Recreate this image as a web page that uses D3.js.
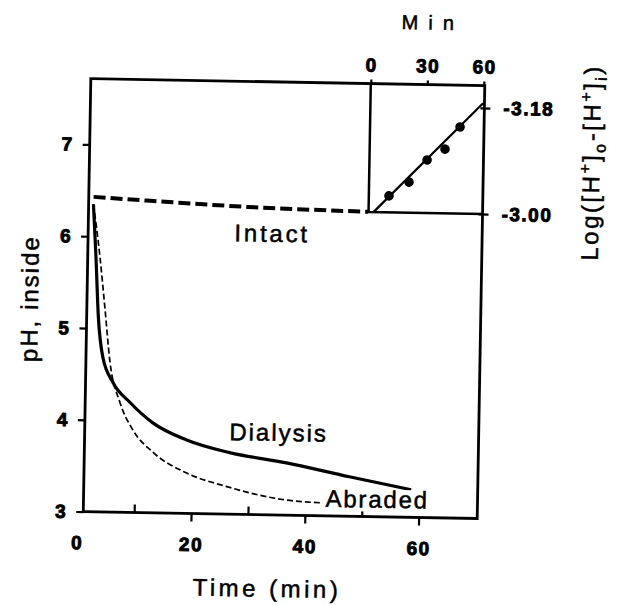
<!DOCTYPE html>
<html><head><meta charset="utf-8">
<script src="https://cdn.jsdelivr.net/npm/d3@7"></script>
<style>
body{margin:0;background:#fff}
svg{display:block}
text{font-family:"Liberation Sans",Arial,Helvetica,sans-serif;fill:#000}
</style>
</head><body>
<svg id="chart" width="622" height="605"></svg>
<script>
// ---- data ----
const timeTicks = [0, 20, 40, 60];
const timeTickLabels = ["0", "20", "40", "60"];
const timeMinorTicks = [10, 30, 50];
const phTicks = [3, 4, 5, 6, 7];
const phTickLabels = ["3", "4", "5", "6", "7"];

const intactTime = [1.9, 11.3, 28.9, 50.2];
const intactPH   = [6.43, 6.40, 6.35, 6.32];

const dialysisTime = [1.9, 2.5, 3.1, 4.0, 5.9, 8.9, 13.0, 19.0, 26.6, 36.6, 47.7, 58.6];
const dialysisPH   = [6.35, 5.78, 5.13, 4.69, 4.41, 4.20, 3.98, 3.80, 3.67, 3.57, 3.43, 3.30];

const abradedTime = [1.9, 3.2, 4.2, 5.3, 7.2, 9.5, 13.1, 19.1, 26.2, 36.0, 43.1];
const abradedPH   = [6.35, 5.78, 5.24, 4.63, 4.19, 3.90, 3.66, 3.44, 3.30, 3.17, 3.14];

const insetTicks = [0, 30, 60];
const insetTickLabels = ["0", "30", "60"];
const insetLogTicks = [-3.00, -3.18];
const insetLogTickLabels = ["-3.00", "-3.18"];
const insetPointTime = [10.7, 21.2, 30.6, 40.0, 47.8];
const insetPointLog  = [-3.028, -3.052, -3.090, -3.109, -3.147];
const insetFitTime = [2.6, 59.8];
const insetFitLog  = [-3.000, -3.188];

// ---- scales ----
const x  = d3.scaleLinear().domain([0, 70.3]).range([81, 481]);
const y  = d3.scaleLinear().domain([3, 7.717]).range([515, 82]);
const xi = d3.scaleLinear().domain([0, 60]).range([367, 480]);
const yi = d3.scaleLinear().domain([-3.00, -3.218]).range([210.5, 82]);

const svg = d3.select("#chart");
const root = svg.append("g").attr("transform", "rotate(1,280,300)");

const fLeft = 87, fRight = 481, fTop = 82, fBottom = 515;

// frame
root.append("path")
  .attr("d", `M${fLeft},${fTop}V${fBottom}H${fRight}V${fTop}Z`)
  .attr("fill", "none").attr("stroke", "#000").attr("stroke-width", 2.8);

// inset frame (left and bottom)
root.append("path")
  .attr("d", `M${xi(0)},${fTop}V${yi(-3.00)}H${fRight}`)
  .attr("fill", "none").attr("stroke", "#000").attr("stroke-width", 2.5);

function styleAxis(g, size) {
  g.select(".domain").remove();
  g.selectAll(".tick line").attr("stroke", "#000").attr("stroke-width", 2.2);
  g.selectAll(".tick text").attr("font-size", size).attr("font-weight", "bold")
    .attr("letter-spacing", 1.5).attr("fill", "#000")
    .attr("stroke", "#000").attr("stroke-width", 0.9);
}

// y axis
const gy = root.append("g").attr("transform", `translate(${fLeft},0)`)
  .call(d3.axisLeft(y).tickValues(phTicks).tickFormat((d, i) => phTickLabels[i])
    .tickSize(7).tickPadding(9));
styleAxis(gy, 19);

// x axis (major ticks outward)
const gx = root.append("g").attr("transform", `translate(0,${fBottom})`)
  .call(d3.axisBottom(x).tickValues(timeTicks).tickFormat((d, i) => timeTickLabels[i])
    .tickSize(8).tickPadding(16));
styleAxis(gx, 19);
gx.selectAll(".tick").filter(d => d === 0).select("line").remove();

// x minor ticks (inward)
const gxm = root.append("g").attr("transform", `translate(0,${fBottom})`)
  .call(d3.axisTop(x).tickValues(timeMinorTicks).tickFormat("").tickSize(8));
styleAxis(gxm, 19);

// inset top axis
const gix = root.append("g").attr("transform", `translate(0,${fTop})`)
  .call(d3.axisTop(xi).tickValues(insetTicks).tickFormat((d, i) => insetTickLabels[i])
    .tickSize(4).tickPadding(8));
styleAxis(gix, 19);

// inset right axis
const giy = root.append("g").attr("transform", `translate(${fRight},0)`)
  .call(d3.axisRight(yi).tickValues(insetLogTicks).tickFormat((d, i) => insetLogTickLabels[i])
    .tickSize(6).tickPadding(13));
styleAxis(giy, 19);
giy.selectAll(".tick line").attr("x1", -4);

// ---- curves ----
const zip = (a, b) => a.map((v, i) => [v, b[i]]);
const line = d3.line().x(d => x(d[0])).y(d => y(d[1])).curve(d3.curveMonotoneX);

root.append("path").datum(zip(intactTime, intactPH))
  .attr("d", line).attr("fill", "none").attr("stroke", "#000")
  .attr("stroke-width", 4).attr("stroke-dasharray", "12,5");

root.append("path").datum(zip(abradedTime, abradedPH))
  .attr("d", line).attr("fill", "none").attr("stroke", "#000")
  .attr("stroke-width", 1.7).attr("stroke-dasharray", "6,3");

root.append("path").datum(zip(dialysisTime, dialysisPH))
  .attr("d", line).attr("fill", "none").attr("stroke", "#000")
  .attr("stroke-width", 3.2);

// inset fit & points
const iline = d3.line().x(d => xi(d[0])).y(d => yi(d[1]));
root.append("path").datum(zip(insetFitTime, insetFitLog))
  .attr("d", iline).attr("fill", "none").attr("stroke", "#000").attr("stroke-width", 2.2);
root.selectAll("circle.pt").data(zip(insetPointTime, insetPointLog)).join("circle")
  .attr("class", "pt").attr("cx", d => xi(d[0])).attr("cy", d => yi(d[1]))
  .attr("r", 4.8).attr("fill", "#000");

// ---- labels ----
function label(txt, xx, yy, opts = {}) {
  return root.append("text").attr("x", xx).attr("y", yy)
    .attr("font-size", opts.size || 24)
    .attr("letter-spacing", opts.ls == null ? 2.5 : opts.ls)
    .attr("stroke", "#000").attr("stroke-width", 0.5)
    .attr("text-anchor", opts.anchor || "middle").text(txt);
}
label("Intact", 271, 242, {ls: 2.8});
label("Dialysis", 281, 441, {ls: 2});
root.append("rect").attr("x", 326).attr("y", 488).attr("width", 104).attr("height", 22).attr("fill", "#fff");
label("Abraded", 329, 506, {anchor: "start", ls: 1.8});
label("Time (min)", 272, 597, {ls: 3.5});
label("Min", 428, 27, {size: 20, ls: 10});

root.append("text").attr("transform", "translate(38,303) rotate(-90)")
  .attr("font-size", 24).attr("letter-spacing", 2).attr("text-anchor", "middle")
  .attr("stroke", "#000").attr("stroke-width", 0.5)
  .text("pH, inside");

const logT = root.append("text").attr("transform", "translate(597,157) rotate(-90)")
  .attr("font-size", 24).attr("letter-spacing", 2.5).attr("text-anchor", "middle")
  .attr("stroke", "#000").attr("stroke-width", 0.5);
logT.append("tspan").text("Log([H");
logT.append("tspan").attr("font-size", 16).attr("dy", -9).text("+");
logT.append("tspan").attr("dy", 9).text("]");
logT.append("tspan").attr("font-size", 16).attr("dy", 6).text("o");
logT.append("tspan").attr("dy", -6).text("-[H");
logT.append("tspan").attr("font-size", 16).attr("dy", -9).text("+");
logT.append("tspan").attr("dy", 9).text("]");
logT.append("tspan").attr("font-size", 16).attr("dy", 6).text("i");
logT.append("tspan").attr("dy", -6).text(")");
</script>
</body></html>
